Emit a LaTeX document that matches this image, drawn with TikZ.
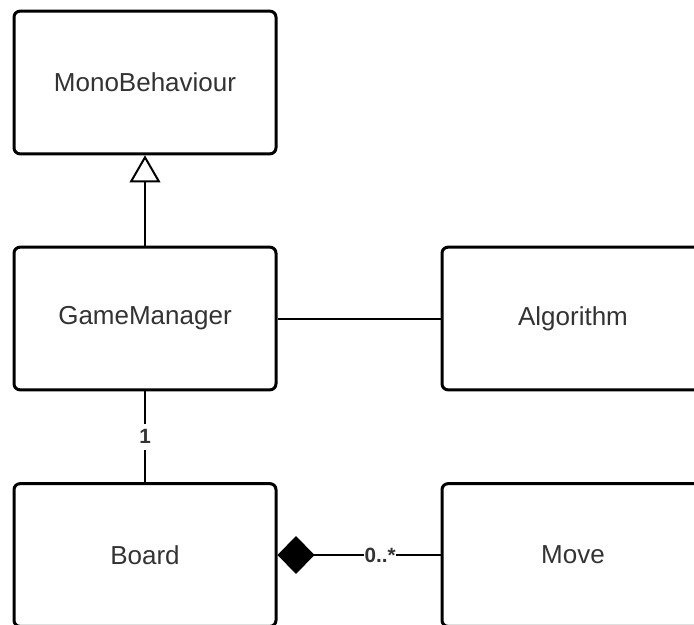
\documentclass[tikz,border=0pt]{standalone}
\usepackage{fontspec}
\setmainfont{Liberation Sans}
\usetikzlibrary{arrows.meta}
\definecolor{txt}{HTML}{333333}
\tikzset{
  cls/.style={draw=black, line width=2.25pt, rounded corners=4.5pt, fill=white,
    minimum width=196.5pt, minimum height=107pt, inner sep=0pt,
    font=\fontsize{19.5}{23}\selectfont, text=txt},
  link/.style={draw=black, line width=1.5pt},
  mult/.style={fill=white, inner xsep=0.5pt, inner ysep=4.5pt, text=txt,
    font=\fontsize{15.5}{18}\selectfont\bfseries},
}
\begin{document}
\begin{tikzpicture}[x=0.75pt, y=-0.75pt]
  \useasboundingbox (0,0) rectangle (694,625);
  \clip (0,0) rectangle (694,625);
  \fill[white] (0,0) rectangle (694,625);

  % classes
  \node[cls] (mono)  at (145,82.5)  {MonoBehaviour};
  \node[cls] (gm)    at (145,318.5) {GameManager};
  \node[cls] (algo)  at (573,318.5) {Algorithm};
  \node[cls] (board) at (145,555)   {Board};
  \node[cls] (move)  at (573,555)   {Move};

  % generalisation
  \draw[link, -{Triangle[open, length=20.25pt, width=23pt, line width=1.5pt]}]
    (gm.north) -- (mono.south);

  % association
  \draw[link] (gm.east) -- (algo.west);

  % GameManager -- Board
  \draw[link] (gm.south) -- node[mult] {1} (board.north);

  % composition
  \draw[link, {Diamond[length=27.75pt, width=28.5pt]}-]
    (board.east) -- node[mult, inner ysep=0.5pt, pos=0.63] {0..*} (move.west);
\end{tikzpicture}
\end{document}
